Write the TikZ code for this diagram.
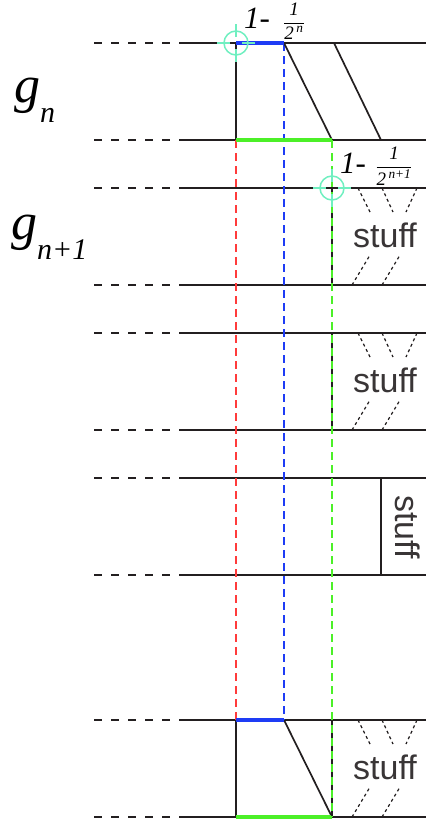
\documentclass[tikz,border=0pt]{standalone}
\usepackage{amsmath}
\usepackage{fontspec}
\setmainfont{Liberation Serif}
\setsansfont{Liberation Sans}
\usetikzlibrary{positioning}
\definecolor{GBlack}{HTML}{231F20}
\definecolor{GBlue}{HTML}{1E3CF5}
\definecolor{GGreen}{HTML}{4CF028}
\definecolor{GRed}{HTML}{FF3B3B}
\definecolor{GMark}{HTML}{6FEFC0}

\begin{document}
\begin{tikzpicture}[
    x=1pt, y=-1pt,
    level/.style={GBlack, line width=1.7pt},
    stub/.style={GBlack, line width=1.7pt, dash pattern=on 8pt off 9pt},
    guide/.style={line width=1.5pt, dash pattern=on 8pt off 5pt},
    fat/.style={line width=4pt},
    dots/.style={GBlack, line width=1.2pt, dash pattern=on 3pt off 3pt},
    target/.style={GMark, line width=1.5pt},
    stufftext/.style={font=\sffamily\fontsize{34}{34}\selectfont, text=GBlack!90, inner sep=0pt},
    gtext/.style={font=\itshape\fontsize{52}{52}\selectfont, inner sep=0pt, anchor=base west},
    onetext/.style={font=\itshape\fontsize{31}{31}\selectfont, inner sep=0pt, anchor=base west},
    fractext/.style={font=\fontsize{19}{19}\selectfont, inner sep=0pt}
  ]
  \useasboundingbox (0,0) rectangle (426,822);

  % levels of the bands
  \foreach \t in {43,188,333,478,720} {
    \draw[stub] (94,\t) -- (172,\t);
    \draw[level] (179,\t) -- (426,\t);
    \draw[stub] (94,\t+97) -- (172,\t+97);
    \draw[level] (179,\t+97) -- (426,\t+97);
  }

  % guides
  \draw[guide, GRed] (236,140) -- (236,720);
  \draw[guide, GBlue] (284,43) -- (284,720);

  % g_n band
  \coordinate (a0) at (236,43);
  \coordinate (b0) at (284,43);
  \coordinate (c0) at (236,140);
  \coordinate (d0) at (332,140);
  \draw[level] (a0) -- (c0);
  \draw[level] (b0) -- (d0);
  \draw[level] (334,43) -- (381,140);
  \draw[fat, GBlue] (a0) -- (b0);
  \draw[fat, GGreen] (c0) -- (d0);

  % last band
  \coordinate (a1) at (236,720);
  \coordinate (b1) at (284,720);
  \coordinate (c1) at (236,817);
  \coordinate (d1) at (332,817);
  \draw[level] (a1) -- (c1);
  \draw[level] (b1) -- (d1);
  \draw[fat, GBlue] (a1) -- (b1);
  \draw[fat, GGreen] (c1) -- (d1);

  % stuff bands
  \foreach \t in {188,333,720} {
    \draw[level] (332,\t) -- (332,\t+97);
    \draw[dots] (358,\t) -- (370,\t+24);
    \draw[dots] (382,\t) -- (393,\t+24);
    \draw[dots] (417,\t) -- (406,\t+24);
    \draw[dots] (352,\t+97) -- (370,\t+67);
    \draw[dots] (382,\t+97) -- (400,\t+67);
    \node[stufftext, anchor=base] (stuff\t) at (385,\t+59) {stuff};
  }
  \draw[level] (381,478) -- (381,575);
  \node[stufftext, rotate=-90] (stuffside) at (408,527) {stuff};

  \draw[guide, GGreen] (332,140) -- (332,817);

  % targets
  \foreach \p/\q in {236/43, 332/188} {
    \draw[target] (\p,\q) circle (12);
    \draw[target] (\p,\q-6) -- (\p,\q-19);
    \draw[target] (\p,\q+6) -- (\p,\q+19);
    \draw[target] (\p-6,\q) -- (\p-19,\q);
    \draw[target] (\p+6,\q) -- (\p+19,\q);
  }

  % labels
  \node[gtext] (gn) at (14,102) {g\raisebox{-20pt}{\fontsize{30}{30}\selectfont n}};
  \node[gtext] (gnn) at (11,239) {g\raisebox{-20pt}{\fontsize{30}{30}\selectfont n+1}};
  \node[onetext] (one0) at (244,28) {1-};
  \node[fractext] (frac0) at (294,21) {$\dfrac{\textit{1}}{\textit{2}^{\,\textit{n}}}$};
  \node[onetext] (one1) at (340,173) {1-};
  \node[fractext] (frac1) at (394,166) {$\dfrac{\textit{1}}{\textit{2}^{\,\textit{n+1}}}$};
\end{tikzpicture}
\end{document}
